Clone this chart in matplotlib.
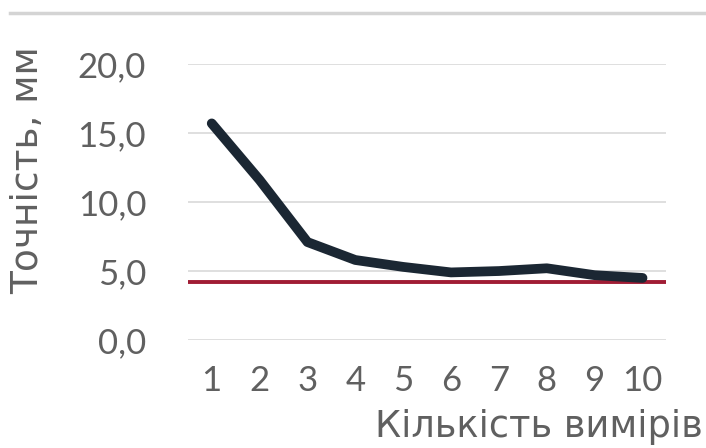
import numpy as np
import matplotlib.pyplot as plt
from matplotlib.lines import Line2D

counts = [1, 2, 3, 4, 5, 6, 7, 8, 9, 10]
accuracy = [15.7, 11.6, 7.1, 5.8, 5.3, 4.9, 5.0, 5.2, 4.7, 4.5]
limit = 4.2
y_ticks = [0, 5, 10, 15, 20]
y_labels = ['0,0', '5,0', '10,0', '15,0', '20,0']

plt.rcParams['font.family'] = ['Lato', 'DejaVu Sans']
text_color = '#606060'

fig = plt.figure(figsize=(7.06, 4.48), dpi=100)
ax = fig.add_axes([0.266, 0.241, 0.678, 0.616])

ax.set_xlim(0.5, 10.5)
ax.set_ylim(0, 20)
ax.set_yticks(y_ticks)
ax.set_yticklabels(y_labels)
ax.set_xticks(counts)
ax.set_xticklabels([str(c) for c in counts])
ax.grid(axis='y', color='#d9d9d9', linewidth=1.2)
ax.set_axisbelow(True)
for s in ax.spines.values():
    s.set_visible(False)
ax.tick_params(length=0, labelsize=25, colors=text_color)
ax.tick_params(axis='y', pad=30)
ax.tick_params(axis='x', pad=18)

ax.axhline(limit, color='#a01c34', linewidth=2.8, zorder=2)
ax.plot(counts, accuracy, color='#1b2733', linewidth=7, solid_capstyle='round',
        solid_joinstyle='round', zorder=3)

# axis titles placed by hand, as in the reference
fig.text(0.04, 0.62, 'Точність, мм', fontsize=27, color=text_color,
         family='DejaVu Sans', rotation=90, ha='center', va='center')
fig.text(0.996, 0.047, 'Кількість вимірів', fontsize=26.5, color=text_color,
         family='DejaVu Sans', ha='right', va='center')

# thin frame line at the top of the picture
fig.add_artist(Line2D([0.014, 1.0], [0.972, 0.972], color='#d4d4d4', linewidth=2.5,
                      transform=fig.transFigure))

fig.savefig('out.png', dpi=100)
